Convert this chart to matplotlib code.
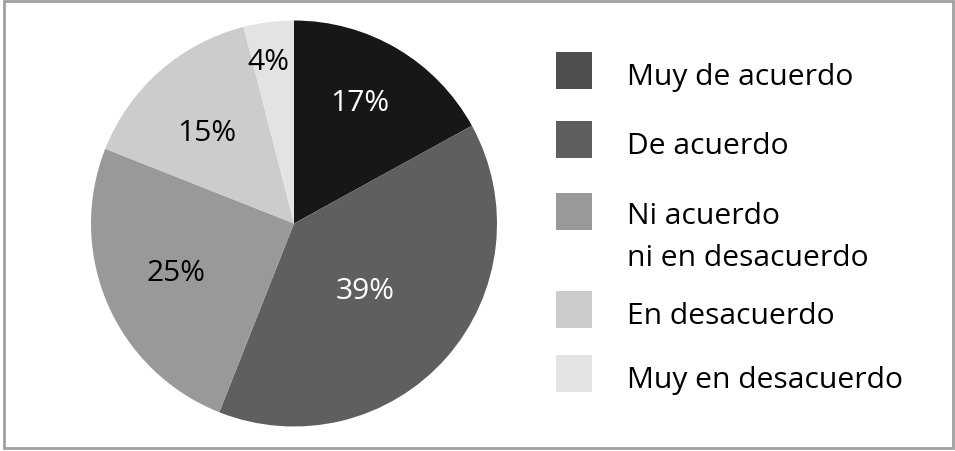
import matplotlib
matplotlib.use("Agg")
import matplotlib.pyplot as plt
from matplotlib.patches import Rectangle
import numpy as np

categories = ["Muy de acuerdo", "De acuerdo", "Ni acuerdo\nni en desacuerdo",
              "En desacuerdo", "Muy en desacuerdo"]
values = [17, 39, 25, 15, 4]
pct_labels = ["17%", "39%", "25%", "15%", "4%"]

slice_colors = ["#171717", "#5f5f5f", "#999999", "#cccccc", "#e3e3e3"]
legend_colors = ["#4e4e4e", "#5f5f5f", "#999999", "#cccccc", "#e3e3e3"]
label_colors = ["white", "white", "black", "black", "black"]
label_dist = [0.68, 0.48, 0.63, 0.62, 0.81]
label_angle_off = [2.0, -2.0, -0.7, 2.4, 1.8]

W, H = 955, 452
FS = 21.6
plt.rcParams['font.family'] = ['Open Sans', 'DejaVu Sans']
fig = plt.figure(figsize=(W / 100, H / 100), dpi=100)

cx, cy, r = 294, 224.5, 203
ax = fig.add_axes([(cx - r) / W, (H - cy - r) / H, 2 * r / W, 2 * r / H])
wedges, _ = ax.pie(values, startangle=90, counterclock=False,
                   colors=slice_colors, wedgeprops=dict(linewidth=0))
ax.set_xlim(-1, 1)
ax.set_ylim(-1, 1)
ax.set_aspect('equal')
ax.axis('off')

for w, lab, col, d, off in zip(wedges, pct_labels, label_colors, label_dist, label_angle_off):
    ang = np.deg2rad((w.theta1 + w.theta2) / 2 + off)
    ax.text(d * np.cos(ang), d * np.sin(ang), lab, ha='center', va='center',
            fontsize=FS, color=col)

# legend
patch_tops = [53, 122, 194, 292, 356]
px, pw, ph = 556, 36, 37
tx = 627
line_gap = 39.5
for cat, col, top in zip(categories, legend_colors, patch_tops):
    fig.add_artist(Rectangle((px / W, (H - top - ph) / H), pw / W, ph / H,
                             transform=fig.transFigure, facecolor=col, edgecolor='none'))
    nl = cat.count("\n")
    base = top + 32 + nl * line_gap
    fig.text(tx / W, (H - base) / H, cat, ha='left', va='baseline',
             fontsize=FS, color='black', linespacing=1.57)

# outer frame
fig.add_artist(Rectangle((4 / W, 3 / H), 949 / W, 447 / H, transform=fig.transFigure,
                         facecolor='none', edgecolor='#a0a0a0', linewidth=2))

fig.savefig("out.png", dpi=100)
